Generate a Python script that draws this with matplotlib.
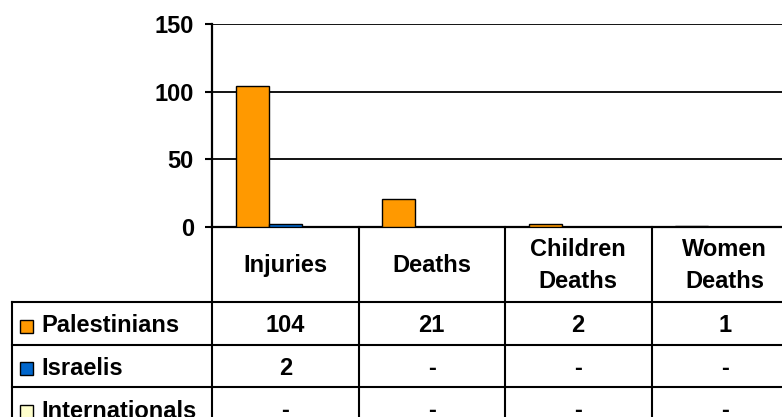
import matplotlib
matplotlib.use("Agg")
import matplotlib.pyplot as plt
import numpy as np
from matplotlib.transforms import blended_transform_factory
from matplotlib.patches import Rectangle
from matplotlib.lines import Line2D

# ---- data ----
categories = ["Injuries", "Deaths", "Children\nDeaths", "Women\nDeaths"]
series_names = ["Palestinians", "Israelis", "Internationals"]
palestinians = [104, 21, 2, 1]
israelis = [2, None, None, None]
internationals = [None, None, None, None]
series_values = [palestinians, israelis, internationals]
colors = ["#FF9900", "#0066CC", "#FFFFCC"]
yticks = [0, 50, 100, 150]

plt.rcParams['font.family'] = ['Liberation Sans', 'DejaVu Sans']
plt.rcParams['font.weight'] = 'bold'
FS = 17

W, H = 782, 417
fig = plt.figure(figsize=(W / 100, H / 100), dpi=100)

# layout in pixels (from top-left)
ax_left, ax_right = 212, 798
ax_top, ax_bot = 24, 227
tbl_left = 12
row_edges = [227, 302, 345, 387, 430]


def fx(x):
    return x / W


def fy(y):
    return 1 - y / H


ax = fig.add_axes([fx(ax_left), fy(ax_bot), (ax_right - ax_left) / W, (ax_bot - ax_top) / H])

n = len(categories)
x = np.arange(n)
bw = 0.225
for k, (vals, col) in enumerate(zip(series_values, colors)):
    h = [np.nan if v is None else v for v in vals]
    ax.bar(x + (k - 1) * bw, h, width=bw, color=col, edgecolor="black", linewidth=1.0, zorder=3)

ax.set_xlim(-0.5, n - 0.5)
ax.set_ylim(0, 150)
ax.set_yticks(yticks)
ax.set_yticklabels([str(t) for t in yticks], fontsize=FS, fontweight='bold')
ax.set_xticks([])
ax.yaxis.grid(True, color="black", linewidth=1.3)
ax.set_axisbelow(True)
for s in ["top", "right"]:
    ax.spines[s].set_visible(False)
ax.spines["left"].set_linewidth(1.6)
ax.spines["bottom"].set_linewidth(1.6)
ax.tick_params(axis="y", direction="out", length=5, width=1.5, pad=8)

# ---- data table ----
tr = blended_transform_factory(ax.transData, fig.transFigure)
lw = 1.5
bounds = np.arange(n + 1) - 0.5

# horizontal lines over data columns
for y in row_edges[1:]:
    fig.add_artist(Line2D([bounds[0], bounds[-1]], [fy(y), fy(y)], transform=tr,
                          color="black", linewidth=lw, clip_on=False))
    fig.add_artist(Line2D([fx(tbl_left), fx(ax_left)], [fy(y), fy(y)], transform=fig.transFigure,
                          color="black", linewidth=lw, clip_on=False))
# vertical lines
for b in bounds:
    fig.add_artist(Line2D([b, b], [fy(row_edges[0]), fy(row_edges[-1])], transform=tr,
                          color="black", linewidth=lw, clip_on=False))
fig.add_artist(Line2D([fx(tbl_left), fx(tbl_left)], [fy(row_edges[1]), fy(row_edges[-1])],
                      transform=fig.transFigure, color="black", linewidth=lw, clip_on=False))

# header
hy = fy((row_edges[0] + row_edges[1]) / 2 + 1)
for i, c in enumerate(categories):
    fig.text(0, hy, c, transform=tr, ha="center", va="center", fontsize=FS,
             fontweight="bold", linespacing=1.45).set_x(i)

# rows
for r, (name, vals, col) in enumerate(zip(series_names, series_values, colors)):
    yc = (row_edges[r + 1] + row_edges[r + 2]) / 2 + 2.5
    fig.add_artist(Rectangle((fx(20), fy(yc + 6.5)), 13 / W, 13 / H, transform=fig.transFigure,
                             facecolor=col, edgecolor="black", linewidth=1.0))
    fig.text(fx(41), fy(yc), name, ha="left", va="center", fontsize=FS, fontweight="bold")
    for i, v in enumerate(vals):
        t = fig.text(0, fy(yc), "-" if v is None else str(v), transform=tr,
                     ha="center", va="center", fontsize=FS, fontweight="bold")
        t.set_x(i)

fig.savefig("out.png", dpi=100)
